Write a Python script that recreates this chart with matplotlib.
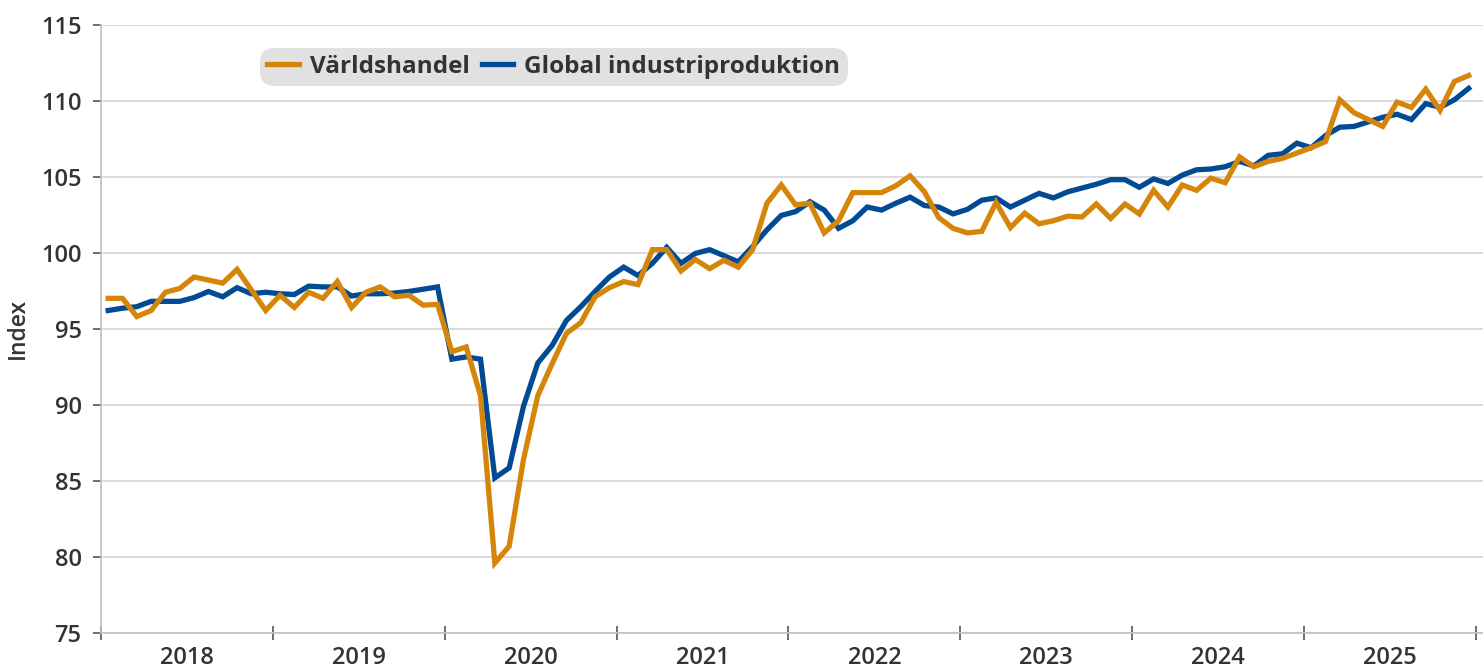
import matplotlib
matplotlib.use("Agg")
import matplotlib.pyplot as plt
import numpy as np

plt.rcParams['font.family'] = ['Open Sans', 'DejaVu Sans']

# monthly data, Jan 2018 - Dec 2025
years = ["2018", "2019", "2020", "2021", "2022", "2023", "2024", "2025"]

varldshandel = [
    97.0, 97.0, 95.8, 96.2, 97.4, 97.65, 98.4, 98.2, 98.0, 98.9, 97.55, 96.2,
    97.2, 96.4, 97.4, 97.0, 98.1, 96.4, 97.4, 97.75, 97.1, 97.2, 96.55, 96.6,
    93.5, 93.8, 90.6, 79.6, 80.7, 86.4, 90.6, 92.7, 94.7, 95.4, 97.1, 97.7,
    98.1, 97.9, 100.2, 100.2, 98.8, 99.55, 98.95, 99.5, 99.05, 100.2, 103.25, 104.45,
    103.15, 103.25, 101.3, 102.1, 103.95, 103.95, 103.95, 104.4, 105.05, 104.0, 102.3, 101.6,
    101.3, 101.4, 103.3, 101.65, 102.6, 101.9, 102.1, 102.4, 102.35, 103.2, 102.25, 103.2,
    102.55, 104.1, 103.0, 104.45, 104.1, 104.9, 104.6, 106.3, 105.65, 106.0, 106.2, 106.55,
    106.9, 107.3, 110.05, 109.2, 108.75, 108.3, 109.9, 109.55, 110.75, 109.35, 111.25, 111.65,
]

industriproduktion = [
    96.2, 96.35, 96.45, 96.8, 96.8, 96.8, 97.05, 97.45, 97.1, 97.7, 97.3, 97.4,
    97.3, 97.25, 97.8, 97.75, 97.75, 97.15, 97.3, 97.3, 97.35, 97.45, 97.6, 97.75,
    93.0, 93.15, 93.0, 85.2, 85.85, 89.9, 92.75, 93.9, 95.55, 96.45, 97.45, 98.4,
    99.05, 98.5, 99.3, 100.35, 99.3, 99.95, 100.2, 99.8, 99.4, 100.4, 101.5, 102.45,
    102.7, 103.35, 102.8, 101.6, 102.1, 103.0, 102.8, 103.25, 103.65, 103.1, 103.0, 102.55,
    102.85, 103.45, 103.6, 103.0, 103.45, 103.9, 103.6, 104.0, 104.25, 104.5, 104.8, 104.8,
    104.3, 104.85, 104.55, 105.1, 105.45, 105.5, 105.65, 106.0, 105.7, 106.4, 106.5, 107.2,
    106.9, 107.7, 108.25, 108.3, 108.6, 108.9, 109.1, 108.75, 109.8, 109.55, 110.05, 110.8,
]

ORANGE = "#D5860A"
BLUE = "#024B94"
TEXT = "#333333"
GRID = "#D4D4D4"

x = np.arange(len(varldshandel)) + 0.5

fig = plt.figure(figsize=(14.83, 6.69), dpi=100)
ax = fig.add_axes([101 / 1483, 36 / 669, 1382 / 1483, 608.5 / 669])

ax.plot(x, varldshandel, color=ORANGE, lw=3.8, label="Världshandel",
        solid_joinstyle="miter", zorder=3)
ax.plot(x, industriproduktion, color=BLUE, lw=3.8, label="Global industriproduktion",
        solid_joinstyle="miter", zorder=2)

ax.set_xlim(0, 96.5)
ax.set_ylim(75, 115)
ax.set_yticks(np.arange(75, 116, 5))
ax.yaxis.grid(True, color=GRID, lw=1.2)
ax.set_axisbelow(True)

ax.set_xticks(np.arange(0, 97, 12))
ax.set_xticklabels([])
ax.set_xticks(np.arange(6, 96, 12), minor=True)
ax.set_xticklabels(years, minor=True)
ax.tick_params(axis="x", which="major", direction="inout", length=10, width=1.2,
               color="#555555")
ax.tick_params(axis="x", which="minor", length=0, pad=9, labelsize=17, labelcolor=TEXT)
ax.tick_params(axis="y", direction="out", length=6, width=1.2, color="#555555",
               labelsize=17, labelcolor=TEXT, pad=8)
for lab in ax.get_xticklabels(minor=True) + ax.get_yticklabels():
    lab.set_fontweight("semibold")

for s in ["top", "right"]:
    ax.spines[s].set_visible(False)
ax.spines["left"].set_color("#BFBFBF")
ax.spines["bottom"].set_color("#BFBFBF")
ax.spines["left"].set_linewidth(1.2)
ax.spines["bottom"].set_linewidth(1.2)

ax.set_ylabel("Index", fontsize=16.5, color=TEXT, fontweight="semibold", labelpad=8)

leg = ax.legend(loc="upper left", bbox_to_anchor=(0.115, 0.962), ncol=2,
                borderaxespad=0, frameon=True, fancybox=True, handlelength=1.3,
                handletextpad=0.45, columnspacing=0.5, borderpad=0.3,
                prop={"size": 17.5, "weight": "bold"})
frame = leg.get_frame()
frame.set_facecolor("#E1E1E1")
frame.set_edgecolor("none")
frame.set_alpha(1)
frame.set_boxstyle("round,pad=0,rounding_size=0.6")
for t in leg.get_texts():
    t.set_color(TEXT)

fig.savefig("out.png", dpi=100)
